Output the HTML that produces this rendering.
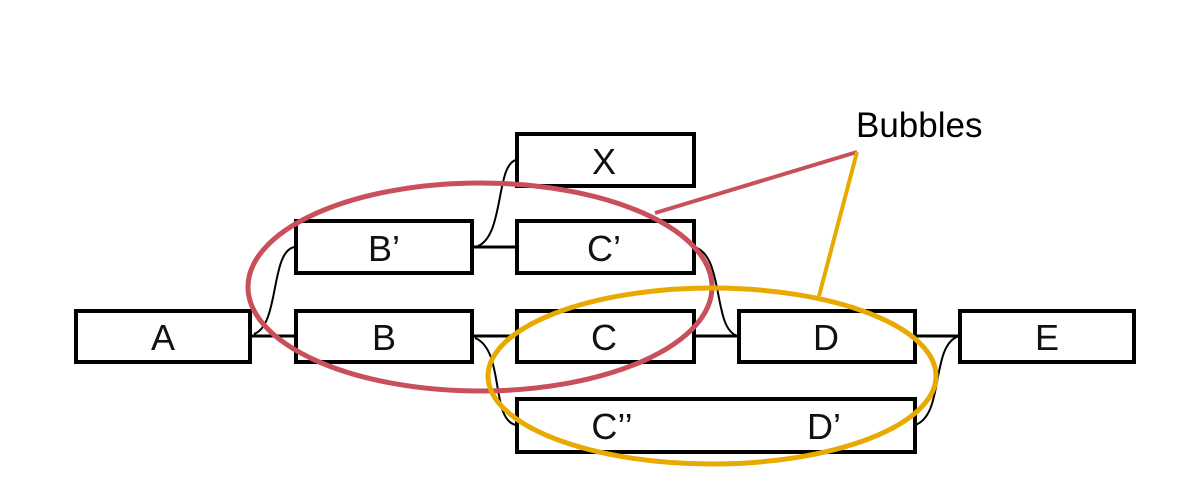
<!DOCTYPE html>
<html><head><style>body{margin:0;background:#fff}svg{display:block}</style></head>
<body>
<svg width="1189" height="491" viewBox="0 0 1189 491" xmlns="http://www.w3.org/2000/svg">
<g fill="none" stroke="#000">
<g stroke-width="3">
<line x1="250" y1="336" x2="295" y2="336"/>
<line x1="472" y1="247" x2="516" y2="247"/>
<line x1="472" y1="336" x2="516" y2="336"/>
<line x1="694" y1="336" x2="738" y2="336"/>
<line x1="915" y1="336" x2="959" y2="336"/>
</g>
<g stroke-width="2">
<path d="M254 334 C 280 325, 270 250, 295 247"/>
<path d="M475 247 C 505 240, 495 165, 516 160"/>
<path d="M475 338 C 505 350, 490 420, 516 425"/>
<path d="M694 247 C 725 255, 712 330, 738 336"/>
<path d="M915 425 C 945 415, 930 345, 959 336"/>
</g>
<g stroke-width="4" fill="#fff">
<rect x="76" y="311" width="174" height="51"/>
<rect x="296" y="311" width="176" height="51"/>
<rect x="296" y="221" width="176" height="52"/>
<rect x="517" y="134" width="177" height="52"/>
<rect x="517" y="221" width="177" height="52"/>
<rect x="517" y="311" width="177" height="51"/>
<rect x="517" y="399" width="398" height="53"/>
<rect x="739" y="311" width="176" height="51"/>
<rect x="960" y="311" width="174" height="51"/>
</g>
</g>
<g font-family="Liberation Sans, sans-serif" font-size="36" fill="#111" text-anchor="middle">
<text x="163" y="350">A</text>
<text x="384" y="350">B</text>
<text x="384" y="261">B’</text>
<text x="604" y="174">X</text>
<text x="604" y="261">C’</text>
<text x="604" y="350">C</text>
<text x="612" y="439">C’’</text>
<text x="826" y="350">D</text>
<text x="824" y="439">D’</text>
<text x="1047" y="350">E</text>
</g>
<text x="856" y="137" font-family="Liberation Sans, sans-serif" font-size="35" fill="#000">Bubbles</text>
<ellipse cx="480" cy="287" rx="232" ry="104" fill="none" stroke="#c9505a" stroke-width="5"/>
<ellipse cx="712" cy="376" rx="224" ry="88" fill="none" stroke="#e8a900" stroke-width="5"/>
<line x1="655" y1="213" x2="857" y2="152" stroke="#c9505a" stroke-width="4"/>
<line x1="857" y1="152" x2="819" y2="296" stroke="#e8a900" stroke-width="4"/>
</svg>
</body></html>
